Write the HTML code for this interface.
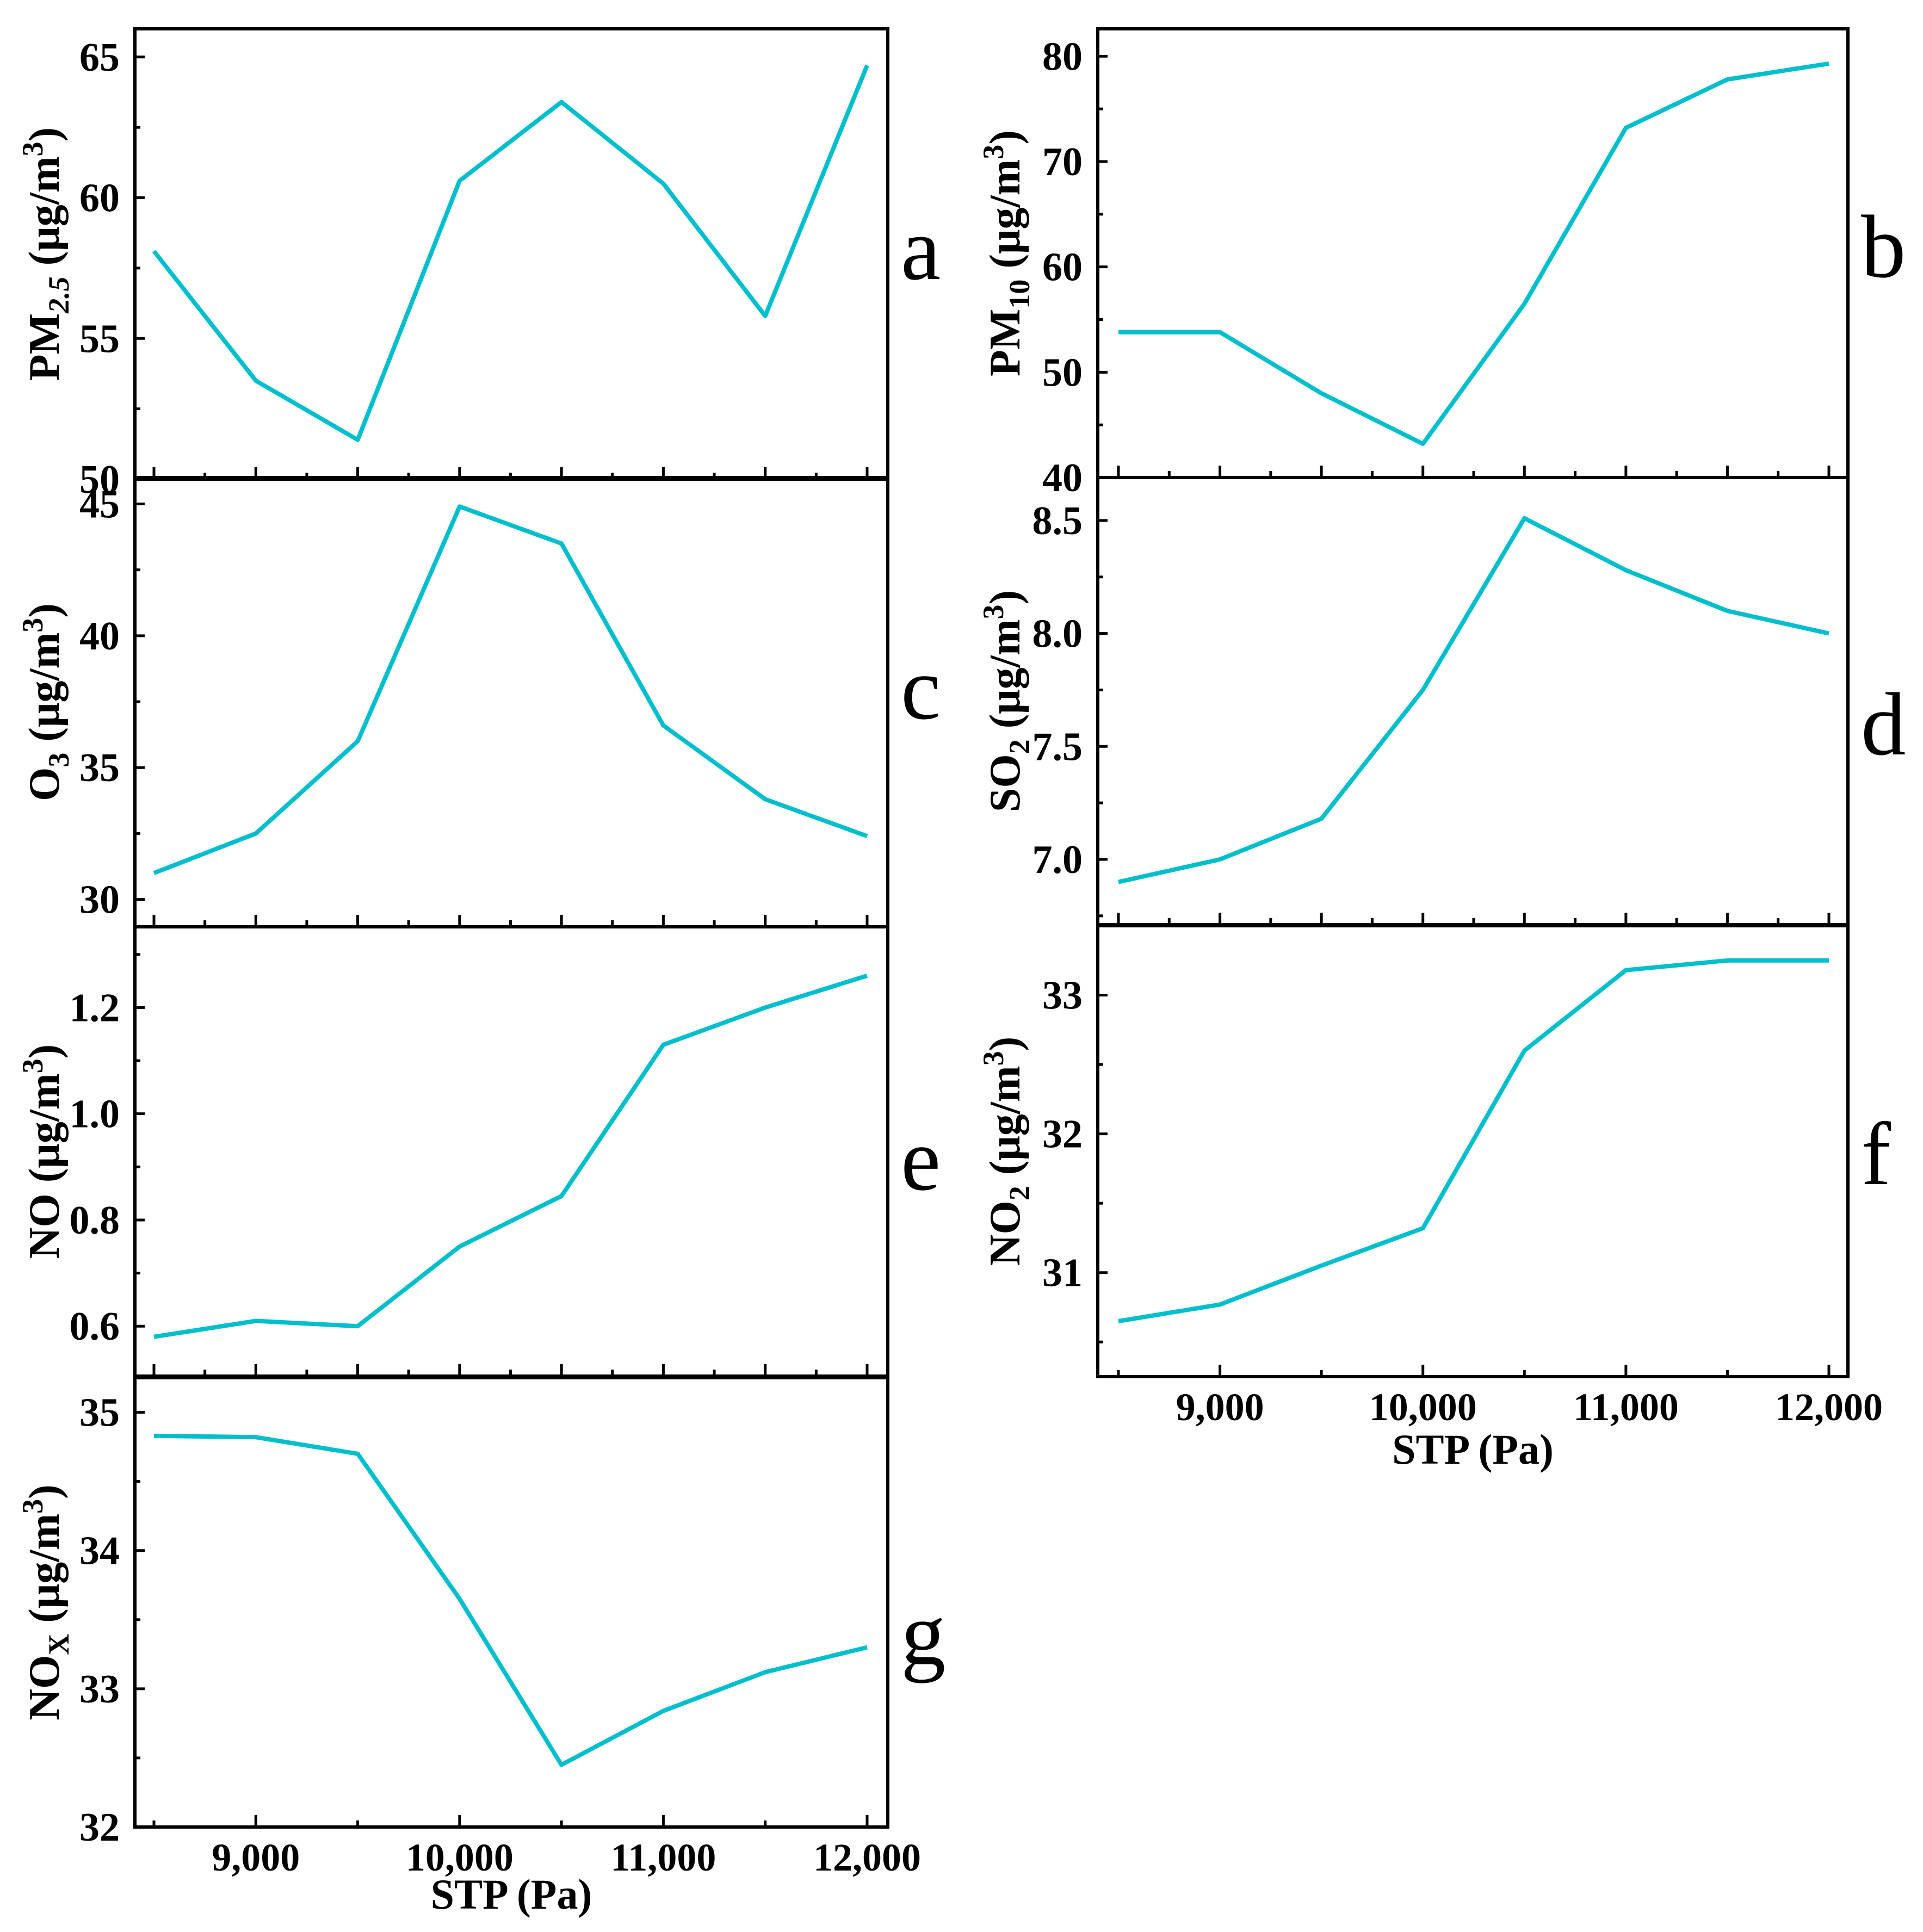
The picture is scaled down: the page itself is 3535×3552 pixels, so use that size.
<!DOCTYPE html>
<html><head><meta charset="utf-8"><title>Pollutants vs STP</title>
<style>
html,body{margin:0;padding:0;background:#fff;}
svg{display:block;}
text{font-family:"Liberation Serif","Times New Roman",serif;fill:#000;}
</style></head>
<body>
<svg id="chart" xmlns="http://www.w3.org/2000/svg" width="3535" height="3552" viewBox="0 0 3535 3552">
<rect x="0" y="0" width="3535" height="3552" fill="#fff"/>
</svg>
<script>
// ---- data ----
const stpValues = [8500, 9000, 9500, 10000, 10500, 11000, 11500, 12000];
const xTickLabels = ["9,000", "10,000", "11,000", "12,000"];
const xTickValues = [9000, 10000, 11000, 12000];
const pm25Values = [58.1, 53.5, 51.4, 60.6, 63.4, 60.5, 55.8, 64.7];
const pm10Values = [53.8, 53.8, 48.0, 43.2, 56.5, 73.2, 77.8, 79.3];
const o3Values = [31.0, 32.5, 36.0, 44.9, 43.5, 36.6, 33.8, 32.4];
const so2Values = [6.90, 7.00, 7.18, 7.75, 8.51, 8.28, 8.10, 8.00];
const noValues = [0.58, 0.61, 0.60, 0.75, 0.845, 1.13, 1.20, 1.26];
const no2Values = [30.65, 30.77, 31.05, 31.32, 32.6, 33.18, 33.25, 33.25];
const noxValues = [34.83, 34.82, 34.70, 33.65, 32.45, 32.84, 33.12, 33.30];
const pm25Ticks = [50, 55, 60, 65];
const pm10Ticks = [40, 50, 60, 70, 80];
const o3Ticks = [30, 35, 40, 45];
const so2Ticks = [7.0, 7.5, 8.0, 8.5];
const noTicks = [0.6, 0.8, 1.0, 1.2];
const no2Ticks = [31, 32, 33];
const noxTicks = [32, 33, 34, 35];

const NS = "http://www.w3.org/2000/svg";
const svg = document.getElementById("chart");
const LINE = "#00BFCC";

function mk(tag, attrs, parent) {
  const e = document.createElementNS(NS, tag);
  for (const k in attrs) e.setAttribute(k, attrs[k]);
  (parent || svg).appendChild(e);
  return e;
}

const COL = {
  L: {x0: 248, x1: 1632, px0: 283, px1: 1594, labelRight: 220, titleX: 80},
  R: {x0: 2018, x1: 3397, px0: 2056, px1: 3362, labelRight: 1990, titleX: 1846}
};

const panels = [
  {id: "a", col: "L", y0: 53, y1: 881, dmin: 50, dmax: 66, vals: pm25Values, ticks: pm25Ticks, minor: 2.5, dec: 0, main: "PM", sub: "2.5", subItalic: true, letterY: 513, xMinor: 250},
  {id: "b", col: "R", y0: 53, y1: 878, dmin: 40, dmax: 82.6, vals: pm10Values, ticks: pm10Ticks, minor: 5, dec: 0, main: "PM", sub: "10", letterY: 509, xMinor: 250},
  {id: "c", col: "L", y0: 878, y1: 1704, dmin: 28.96, dmax: 46.0, vals: o3Values, ticks: o3Ticks, minor: 2.5, dec: 0, main: "O", sub: "3", letterY: 1321, xMinor: 250},
  {id: "d", col: "R", y0: 878, y1: 1700, dmin: 6.711, dmax: 8.69, vals: so2Values, ticks: so2Ticks, minor: 0.25, dec: 1, main: "SO", sub: "2", letterY: 1387, xMinor: 250},
  {id: "e", col: "L", y0: 1704, y1: 2530, dmin: 0.506, dmax: 1.352, vals: noValues, ticks: noTicks, minor: 0.1, dec: 1, main: "NO", sub: "", letterY: 2187, xMinor: 250},
  {id: "f", col: "R", y0: 1702, y1: 2531, dmin: 30.25, dmax: 33.5, vals: no2Values, ticks: no2Ticks, minor: 0.5, dec: 0, main: "NO", sub: "2", letterY: 2177, xMinor: 500, xLabels: true},
  {id: "g", col: "L", y0: 2533, y1: 3359, dmin: 32, dmax: 35.25, vals: noxValues, ticks: noxTicks, minor: 0.5, dec: 0, main: "NO", sub: "X", letterY: 3059, xMinor: 500, xLabels: true}
];

panels.forEach(p => {
  const c = COL[p.col];
  const g = mk("g", {});
  
  
  const xs = v => c.px0 + (v - 8500) / (12000 - 8500) * (c.px1 - c.px0);
  const ys = v => p.y1 - (v - p.dmin) / (p.dmax - p.dmin) * (p.y1 - p.y0);

  const fr = mk("rect", {x: c.x0, y: p.y0, width: c.x1 - c.x0, height: p.y1 - p.y0, fill: "none", stroke: "#000", "stroke-width": 6}, g);
  
  

  for (let v = 8500; v <= 12000; v += p.xMinor) {
    const major = p.xMinor === 250 ? (v % 500 === 0) : (v % 1000 === 0);
    const len = major ? 22 : 12;
    const t = mk("line", {x1: xs(v), x2: xs(v), y1: p.y1, y2: p.y1 - len, stroke: "#000", "stroke-width": 5}, g);
    
    
  }
  const t0 = p.ticks[0];
  for (let k = -4; k < 200; k++) {
    const v = t0 + k * p.minor;
    if (v < p.dmin - 1e-9 || v > p.dmax + 1e-9) continue;
    const isMajor = p.ticks.some(tv => Math.abs(tv - v) < 1e-6);
    const len = isMajor ? 18 : 10;
    const t = mk("line", {x1: c.x0, x2: c.x0 + len, y1: ys(v), y2: ys(v), stroke: "#000", "stroke-width": 5}, g);
    
    
  }
  p.ticks.forEach(v => {
    const tl = mk("text", {x: c.labelRight, y: ys(v) + 25, "text-anchor": "end", "font-size": 74, "font-weight": "bold"}, g);
    
    
    tl.textContent = v.toFixed(p.dec);
  });

  const pts = p.vals.map((v, i) => xs(stpValues[i]).toFixed(1) + "," + ys(v).toFixed(1)).join(" ");
  const pl = mk("polyline", {points: pts, fill: "none", stroke: LINE, "stroke-width": 8, "stroke-linejoin": "round"}, g);
  
  

  const cy = (p.y0 + p.y1) / 2;
  const tt = mk("text", {x: 0, y: 0, "text-anchor": "middle", "font-size": 80, "font-weight": "bold", transform: "translate(" + (c.titleX + 28) + "," + cy + ") rotate(-90)"}, g);
  
  
  const s1 = mk("tspan", {}, tt); s1.textContent = p.main;
  if (p.sub) {
    const s2 = mk("tspan", {"font-size": 54, dy: 18}, tt);
    if (p.subItalic) s2.setAttribute("font-style", "italic");
    s2.textContent = p.sub;
    const s3 = mk("tspan", {dy: -18}, tt); s3.textContent = " (μg/m";
  } else {
    const s3 = mk("tspan", {}, tt); s3.textContent = " (μg/m";
  }
  const s4 = mk("tspan", {"font-size": 54, dy: -30}, tt); s4.textContent = "3";
  const s5 = mk("tspan", {dy: 30}, tt); s5.textContent = ")";

  const lt = mk("text", {x: c.x1 + 24, y: p.letterY, "font-size": 165}, g);
  
  
  lt.textContent = p.id;

  if (p.xLabels) {
    xTickValues.forEach((v, i) => {
      const xl = mk("text", {x: xs(v), y: p.y1 + 80, "text-anchor": "middle", "font-size": 72, "font-weight": "bold"}, g);
      
      
      xl.textContent = xTickLabels[i];
    });
    const xt = mk("text", {x: (c.x0 + c.x1) / 2, y: p.y1 + (p.col === "L" ? 150 : 160), "text-anchor": "middle", "font-size": 78, "font-weight": "bold"}, g);
    
    
    xt.textContent = "STP (Pa)";
  }
});
</script>
</body></html>
